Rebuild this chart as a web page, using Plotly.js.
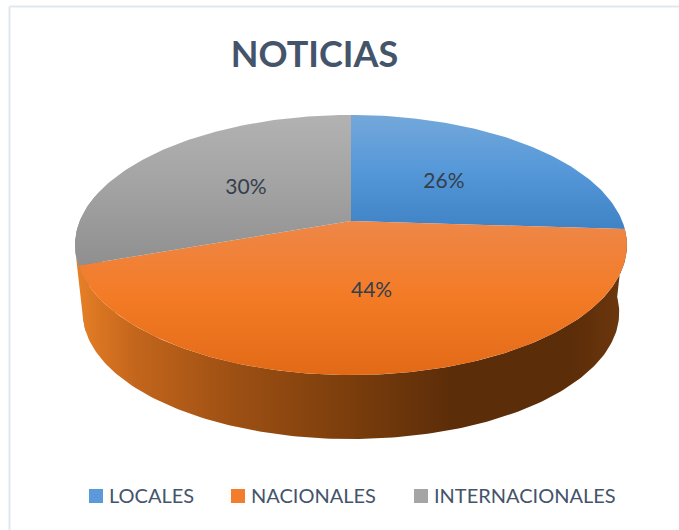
<!DOCTYPE html>
<html>
<head>
<meta charset="utf-8">
<script src="https://cdn.plot.ly/plotly-3.0.1.min.js"></script>
<style>
  html, body { margin: 0; padding: 0; background: #fff; }
  #chart { width: 679px; height: 530px; }
</style>
</head>
<body>
<div id="chart"></div>
<script>
const titleText = "NOTICIAS";
const categories = ["LOCALES", "NACIONALES", "INTERNACIONALES"];
const values = [26, 43.6, 30.4];

const topShades = [
  [[0, "#74a8da"], [0.45, "#5799d9"], [1, "#3f83c6"]],
  [[0, "#ee8748"], [0.5, "#f47b25"], [1, "#e26a17"]],
  [[0, "#b2b2b2"], [0.5, "#a2a2a2"], [1, "#8f8f8f"]]
];
const legendColors = ["#5a9ad9", "#f27d2c", "#a5a5a5"];
const swatchX = [96, 238, 421];
const legendTextX = [107.5, 249.5, 432.5];
const textColor = "#44546a";
const labelColor = "#333f4c";
const fontFamily = "Lato, Carlito, sans-serif";

// tilted disc: circle projected with perspective, apex sits above the ellipse middle
const cx = 351, apexY = 221, radX = 271.2, radY = 125.6, persp = 0.1846;
const rimDrop = 68.3, rimScale = 0.972, labelDrop = 2.5;

function project(deg, r, drop, scale) {
  let a = deg * Math.PI / 180;
  let u = r * Math.sin(a), v = -r * Math.cos(a);
  let d = 1 - persp * v;
  return [cx + scale * radX * u / d, apexY + drop + scale * radY * v / d];
}

let total = values.reduce((a, b) => a + b, 0);
let angles = [0];
values.forEach((v, i) => angles.push(angles[i] + v / total * 360));

function arc(from, to, drop, scale) {
  let pts = [];
  let n = Math.max(2, Math.ceil(Math.abs(to - from)));
  for (let i = 0; i <= n; i++) {
    pts.push(project(from + (to - from) * i / n, 1, drop, scale));
  }
  return pts;
}

function polyTrace(pts, extra) {
  return Object.assign({
    x: pts.map(p => p[0]),
    y: pts.map(p => p[1]),
    type: "scatter",
    mode: "lines",
    fill: "toself",
    line: { width: 0 },
    hoverinfo: "skip",
    showlegend: false
  }, extra);
}

let data = [];

// side wall, only the front part shows. orange runs a bit past its edge, the top face hides it
let rimStart = angles[1], rimMid = angles[2], rimEnd = 282;
let rimOrangeEnd = rimMid + 6;
data.push(polyTrace(
  arc(rimEnd, rimMid, 0, 1).concat(arc(rimMid, rimEnd, rimDrop, rimScale)),
  { fillcolor: "#858585" }
));
data.push(polyTrace(
  arc(rimStart, rimOrangeEnd, 0, 1).concat(arc(rimOrangeEnd, rimStart, rimDrop, rimScale)),
  {
    fillgradient: {
      type: "horizontal",
      start: 78,
      stop: 627,
      colorscale: [
        [0, "#e67f26"], [0.1, "#c4661c"], [0.27, "#a05114"], [0.5, "#7a3d0c"],
        [0.68, "#5c2d09"], [0.9, "#5c2d09"], [1, "#6d380e"]
      ]
    }
  }
));

// top faces
values.forEach((v, i) => {
  let pts = [[cx, apexY]].concat(arc(angles[i], angles[i + 1], 0, 1));
  pts.push([cx, apexY]);
  let ys = pts.map(p => p[1]);
  data.push(polyTrace(pts, {
    name: categories[i],
    fillgradient: {
      type: "vertical",
      start: Math.min(...ys),
      stop: Math.max(...ys),
      colorscale: topShades[i]
    }
  }));
});

// percent labels
let labelPts = values.map((v, i) => project((angles[i] + angles[i + 1]) / 2, 0.5, labelDrop, 1));
data.push({
  x: labelPts.map(p => p[0]),
  y: labelPts.map(p => p[1]),
  text: values.map(v => Math.round(v / total * 100) + "%"),
  type: "scatter",
  mode: "text",
  textposition: "middle center",
  textfont: { family: fontFamily, size: 21, color: labelColor },
  hoverinfo: "skip",
  showlegend: false
});

// legend swatches
data.push({
  x: swatchX,
  y: swatchX.map(() => 496),
  type: "scatter",
  mode: "markers",
  marker: { symbol: "square", size: 14, color: legendColors, line: { width: 0 } },
  hoverinfo: "skip",
  showlegend: false
});

let layout = {
  width: 679,
  height: 530,
  margin: { l: 0, r: 0, t: 0, b: 0, pad: 0 },
  paper_bgcolor: "#ffffff",
  plot_bgcolor: "#ffffff",
  showlegend: false,
  hovermode: false,
  title: {
    text: "<b>" + titleText + "</b>",
    font: { family: fontFamily, size: 36, color: textColor },
    x: 314.5 / 679,
    xanchor: "center",
    xref: "paper",
    y: 1 - 54 / 530,
    yanchor: "middle",
    yref: "container"
  },
  xaxis: { range: [0, 679], visible: false, fixedrange: true },
  yaxis: { range: [530, 0], visible: false, fixedrange: true },
  shapes: [
    { type: "line", x0: 9.5, x1: 9.5, y0: 6.5, y1: 530, line: { color: "#e2e7ef", width: 2 } },
    { type: "line", x0: 9.5, x1: 679, y0: 6.5, y1: 6.5, line: { color: "#e2e7ef", width: 2 } }
  ],
  annotations: categories.map((c, i) => ({
    text: c,
    x: legendTextX[i],
    y: 495,
    xref: "x",
    yref: "y",
    xanchor: "left",
    yanchor: "middle",
    showarrow: false,
    borderpad: 0,
    font: { family: fontFamily, size: 20, color: textColor }
  }))
};

let config = { displayModeBar: false, staticPlot: true };

Plotly.newPlot("chart", data, layout, config);
</script>
</body>
</html>
